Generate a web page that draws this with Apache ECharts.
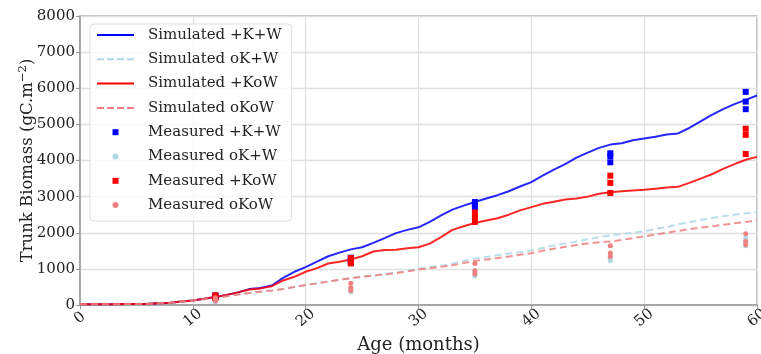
<!DOCTYPE html>
<html>
<head>
<meta charset="utf-8">
<script src="https://cdn.jsdelivr.net/npm/echarts@6/dist/echarts.min.js"></script>
<style>html,body{margin:0;padding:0;background:#fff}#c{width:761px;height:354px}</style>
</head>
<body>
<div id="c"></div>
<script>
// ---- data ----
const months = [0,1,2,3,4,5,6,7,8,9,10,11,12,13,14,15,16,17,18,19,20,21,22,23,24,25,26,27,28,29,30,31,32,33,34,35,36,37,38,39,40,41,42,43,44,45,46,47,48,49,50,51,52,53,54,55,56,57,58,59,60];
const simKW   = [20,20,20,22,25,28,35,45,65,95,125,170,220,280,350,440,470,540,750,920,1050,1200,1350,1450,1540,1600,1720,1850,1990,2080,2150,2300,2480,2640,2750,2850,2950,3040,3150,3280,3400,3580,3750,3900,4080,4220,4350,4440,4480,4560,4610,4660,4720,4750,4900,5080,5260,5420,5560,5680,5800];
const simOKW  = [20,20,20,22,25,28,35,45,65,95,125,160,200,240,290,330,370,400,440,500,555,600,650,700,740,790,820,860,900,950,1010,1050,1090,1140,1220,1290,1330,1380,1420,1460,1510,1580,1650,1700,1760,1820,1880,1925,1960,2000,2040,2100,2160,2230,2290,2350,2410,2460,2500,2540,2565];
const simKoW  = [20,20,20,22,25,28,35,45,65,95,125,170,220,280,350,430,460,520,680,780,920,1020,1150,1200,1260,1350,1480,1520,1530,1570,1600,1700,1880,2080,2180,2270,2340,2400,2500,2620,2710,2800,2860,2920,2950,3000,3080,3120,3150,3170,3190,3220,3250,3270,3380,3500,3620,3770,3900,4020,4100];
const simOKoW = [20,20,20,22,25,28,35,45,65,95,125,160,200,240,290,330,370,400,440,500,555,600,650,700,740,785,810,850,880,930,980,1020,1060,1100,1160,1220,1260,1300,1340,1390,1435,1500,1560,1610,1660,1700,1740,1760,1800,1850,1900,1950,2000,2050,2100,2140,2175,2220,2260,2300,2340];

const measMonths = [12, 24, 35, 47, 59];
const measKW   = [[210,240,260],[1180,1250,1310],[2700,2780,2850],[3950,4120,4200],[5420,5630,5900]];
const measOKW  = [[90,120,150],[360,420,480],[800,870,950],[1230,1320,1420],[1640,1740,1850]];
const measKoW  = [[190,230,270],[1150,1220,1300],[2300,2430,2560],[3100,3380,3580],[4180,4710,4880]];
const measOKoW = [[110,150,200],[400,480,600],[860,950,1150],[1340,1440,1640],[1670,1760,1970]];

const yTicks = [0,1000,2000,3000,4000,5000,6000,7000,8000];
const xTicks = [0,10,20,30,40,50,60];

const names = ['Simulated +K+W','Simulated oK+W','Simulated +KoW','Simulated oKoW',
               'Measured +K+W','Measured oK+W','Measured +KoW','Measured oKoW'];

// ---- build ----
const pairs = (xs, ys) => xs.map((x,i)=>[x, ys[i]]);
const measPairs = (xs, groups) => { const out=[]; xs.forEach((x,i)=>groups[i].forEach(v=>out.push([x,v]))); return out; };

const FONT = 'DejaVu Serif';
const TXT = '#222';

const ICON_SOLID  = 'path://M0,0h37v2h-37z';
const ICON_DASHED = 'path://M0,0h7v2h-7zM10,0h7v2h-7zM20,0h7v2h-7zM30,0h7v2h-7z';
const ICON_SQUARE = 'path://M0,0h1v1h-1z';
const ICON_CIRCLE = 'circle';

function simSeries(name, ys, color, dashed){
  return {name, type:'line', data: pairs(months, ys), showSymbol:false, symbol:'none',
    lineStyle:{color, width:2, type: dashed ? [7,4] : 'solid', opacity:0.85},
    itemStyle:{color}, z:2, animation:false};
}
function measSeries(name, groups, color, sym, size){
  return {name, type:'scatter', data: measPairs(measMonths, groups), symbol: sym, symbolSize: size,
    itemStyle:{color, opacity:1}, z:3, animation:false};
}

const legendIcons = [ICON_SOLID, ICON_DASHED, ICON_SOLID, ICON_DASHED, ICON_SQUARE, ICON_CIRCLE, ICON_SQUARE, ICON_CIRCLE];

const chart = echarts.init(document.getElementById('c'), null, {renderer:'canvas'});
chart.setOption({
  animation:false,
  backgroundColor:'#fff',
  grid:{left:80, right:4, top:16, bottom:49, show:true, borderColor:'#aaa', borderWidth:1.5,
        containLabel:false, outerBoundsMode:'none'},
  legend:{
    left:90, top:24, orient:'vertical',
    data: names.map((n,i)=>({name:n, icon: legendIcons[i]})),
    itemWidth:37, itemHeight:6, itemGap:6.3,
    padding:[2,10,7,7],
    itemStyle:{borderWidth:0},
    lineStyle:{width:0},
    backgroundColor:'rgba(255,255,255,0.8)', borderColor:'#ddd', borderWidth:1, borderRadius:4,
    textStyle:{fontFamily:FONT, fontSize:15, color:TXT, lineHeight:18, padding:[0,0,0,9]},
    symbolKeepAspect:true
  },
  xAxis:{
    type:'value', min:xTicks[0], max:xTicks[xTicks.length-1], interval:10,
    name:'Age (months)', nameLocation:'middle', nameGap:31, nameMoveOverlap:false,
    nameTextStyle:{fontFamily:FONT, fontSize:18, color:TXT},
    axisLine:{show:true, lineStyle:{color:'#999', width:1.5}},
    axisTick:{show:true, length:4, lineStyle:{color:'#999'}},
    axisLabel:{fontFamily:FONT, fontSize:15, color:TXT, rotate:40, align:'center', verticalAlign:'middle', margin:13},
    splitLine:{show:true, lineStyle:{color:'#e0e0e0', width:1.3}}
  },
  yAxis:{
    type:'value', min:yTicks[0], max:yTicks[yTicks.length-1], interval:1000,
    name:'Trunk Biomass (gC.m{sup|−2})', nameLocation:'middle', nameGap:41, nameMoveOverlap:false,
    nameTextStyle:{fontFamily:FONT, fontSize:16.5, color:TXT, lineHeight:22,
      rich:{sup:{fontFamily:FONT, fontSize:11.5, color:TXT, verticalAlign:'top', lineHeight:22}}},
    axisLine:{show:true, lineStyle:{color:'#999', width:1.5}},
    axisTick:{show:true, length:4, lineStyle:{color:'#999'}},
    axisLabel:{fontFamily:FONT, fontSize:15, color:TXT, margin:5, formatter:(v)=>String(v)},
    splitLine:{show:true, lineStyle:{color:'#e0e0e0', width:1.3}}
  },
  series:[
    simSeries(names[0], simKW, '#0000ff', false),
    simSeries(names[1], simOKW, '#add8e6', true),
    simSeries(names[2], simKoW, '#ff0000', false),
    simSeries(names[3], simOKoW, '#f08080', true),
    measSeries(names[4], measKW, '#0000ff', 'rect', 6),
    measSeries(names[5], measOKW, '#add8e6', 'circle', 5),
    measSeries(names[6], measKoW, '#ff0000', 'rect', 6),
    measSeries(names[7], measOKoW, '#f08080', 'circle', 5)
  ]
});
</script>
</body>
</html>
